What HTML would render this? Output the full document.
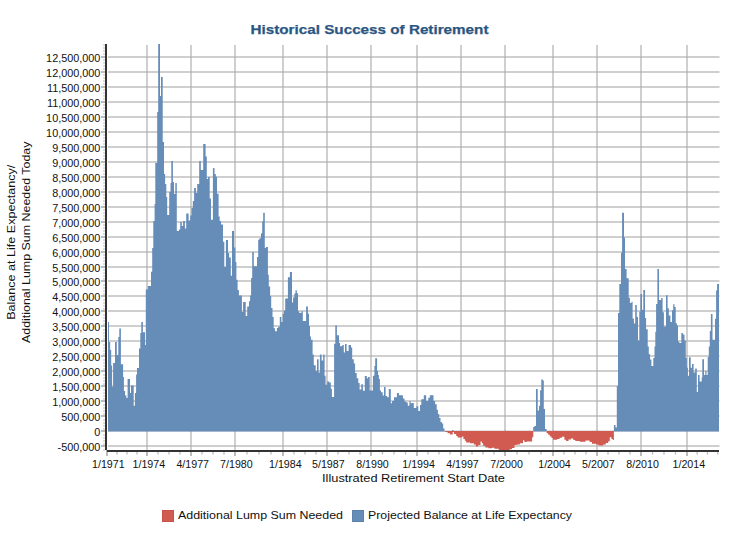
<!DOCTYPE html>
<html><head><meta charset="utf-8"><title>Historical Success of Retirement</title>
<style>
html,body{margin:0;padding:0;background:#fff;}
body{width:741px;height:549px;position:relative;overflow:hidden;font-family:"Liberation Sans",sans-serif;}
</style></head><body>
<svg width="741" height="549" viewBox="0 0 741 549" style="position:absolute;left:0;top:0"><g fill="#cfcfcf"><rect x="108" y="56.00" width="611.5" height="2"/><rect x="108" y="71.00" width="611.5" height="2"/><rect x="108" y="86.00" width="611.5" height="2"/><rect x="108" y="101.00" width="611.5" height="2"/><rect x="108" y="116.00" width="611.5" height="2"/><rect x="108" y="131.00" width="611.5" height="2"/><rect x="108" y="146.00" width="611.5" height="2"/><rect x="108" y="161.00" width="611.5" height="2"/><rect x="108" y="176.00" width="611.5" height="2"/><rect x="108" y="191.00" width="611.5" height="2"/><rect x="108" y="206.00" width="611.5" height="2"/><rect x="108" y="221.00" width="611.5" height="2"/><rect x="108" y="236.00" width="611.5" height="2"/><rect x="108" y="251.00" width="611.5" height="2"/><rect x="108" y="266.00" width="611.5" height="2"/><rect x="108" y="280.00" width="611.5" height="2"/><rect x="108" y="295.00" width="611.5" height="2"/><rect x="108" y="310.00" width="611.5" height="2"/><rect x="108" y="325.00" width="611.5" height="2"/><rect x="108" y="340.00" width="611.5" height="2"/><rect x="108" y="355.00" width="611.5" height="2"/><rect x="108" y="370.00" width="611.5" height="2"/><rect x="108" y="385.00" width="611.5" height="2"/><rect x="108" y="400.00" width="611.5" height="2"/><rect x="108" y="415.00" width="611.5" height="2"/><rect x="108" y="430.2" width="611" height="1.6" fill="#dcdcdc"/><rect x="108" y="445" width="611.5" height="2"/><rect x="146" y="45" width="2" height="405"/><rect x="190" y="45" width="2" height="405"/><rect x="234" y="45" width="2" height="405"/><rect x="282" y="45" width="2" height="405"/><rect x="326" y="45" width="2" height="405"/><rect x="370" y="45" width="2" height="405"/><rect x="416" y="45" width="2" height="405"/><rect x="460" y="45" width="2" height="405"/><rect x="504" y="45" width="2" height="405"/><rect x="552" y="45" width="2" height="405"/><rect x="596" y="45" width="2" height="405"/><rect x="640" y="45" width="2" height="405"/><rect x="686" y="45" width="2" height="405"/></g><g fill="#bcbcbc"><rect x="146" y="56" width="2" height="2"/><rect x="146" y="71" width="2" height="2"/><rect x="146" y="86" width="2" height="2"/><rect x="146" y="101" width="2" height="2"/><rect x="146" y="116" width="2" height="2"/><rect x="146" y="131" width="2" height="2"/><rect x="146" y="146" width="2" height="2"/><rect x="146" y="161" width="2" height="2"/><rect x="146" y="176" width="2" height="2"/><rect x="146" y="191" width="2" height="2"/><rect x="146" y="206" width="2" height="2"/><rect x="146" y="221" width="2" height="2"/><rect x="146" y="236" width="2" height="2"/><rect x="146" y="251" width="2" height="2"/><rect x="146" y="266" width="2" height="2"/><rect x="146" y="280" width="2" height="2"/><rect x="146" y="295" width="2" height="2"/><rect x="146" y="310" width="2" height="2"/><rect x="146" y="325" width="2" height="2"/><rect x="146" y="340" width="2" height="2"/><rect x="146" y="355" width="2" height="2"/><rect x="146" y="370" width="2" height="2"/><rect x="146" y="385" width="2" height="2"/><rect x="146" y="400" width="2" height="2"/><rect x="146" y="415" width="2" height="2"/><rect x="146" y="430" width="2" height="2"/><rect x="146" y="445" width="2" height="2"/><rect x="190" y="56" width="2" height="2"/><rect x="190" y="71" width="2" height="2"/><rect x="190" y="86" width="2" height="2"/><rect x="190" y="101" width="2" height="2"/><rect x="190" y="116" width="2" height="2"/><rect x="190" y="131" width="2" height="2"/><rect x="190" y="146" width="2" height="2"/><rect x="190" y="161" width="2" height="2"/><rect x="190" y="176" width="2" height="2"/><rect x="190" y="191" width="2" height="2"/><rect x="190" y="206" width="2" height="2"/><rect x="190" y="221" width="2" height="2"/><rect x="190" y="236" width="2" height="2"/><rect x="190" y="251" width="2" height="2"/><rect x="190" y="266" width="2" height="2"/><rect x="190" y="280" width="2" height="2"/><rect x="190" y="295" width="2" height="2"/><rect x="190" y="310" width="2" height="2"/><rect x="190" y="325" width="2" height="2"/><rect x="190" y="340" width="2" height="2"/><rect x="190" y="355" width="2" height="2"/><rect x="190" y="370" width="2" height="2"/><rect x="190" y="385" width="2" height="2"/><rect x="190" y="400" width="2" height="2"/><rect x="190" y="415" width="2" height="2"/><rect x="190" y="430" width="2" height="2"/><rect x="190" y="445" width="2" height="2"/><rect x="234" y="56" width="2" height="2"/><rect x="234" y="71" width="2" height="2"/><rect x="234" y="86" width="2" height="2"/><rect x="234" y="101" width="2" height="2"/><rect x="234" y="116" width="2" height="2"/><rect x="234" y="131" width="2" height="2"/><rect x="234" y="146" width="2" height="2"/><rect x="234" y="161" width="2" height="2"/><rect x="234" y="176" width="2" height="2"/><rect x="234" y="191" width="2" height="2"/><rect x="234" y="206" width="2" height="2"/><rect x="234" y="221" width="2" height="2"/><rect x="234" y="236" width="2" height="2"/><rect x="234" y="251" width="2" height="2"/><rect x="234" y="266" width="2" height="2"/><rect x="234" y="280" width="2" height="2"/><rect x="234" y="295" width="2" height="2"/><rect x="234" y="310" width="2" height="2"/><rect x="234" y="325" width="2" height="2"/><rect x="234" y="340" width="2" height="2"/><rect x="234" y="355" width="2" height="2"/><rect x="234" y="370" width="2" height="2"/><rect x="234" y="385" width="2" height="2"/><rect x="234" y="400" width="2" height="2"/><rect x="234" y="415" width="2" height="2"/><rect x="234" y="430" width="2" height="2"/><rect x="234" y="445" width="2" height="2"/><rect x="282" y="56" width="2" height="2"/><rect x="282" y="71" width="2" height="2"/><rect x="282" y="86" width="2" height="2"/><rect x="282" y="101" width="2" height="2"/><rect x="282" y="116" width="2" height="2"/><rect x="282" y="131" width="2" height="2"/><rect x="282" y="146" width="2" height="2"/><rect x="282" y="161" width="2" height="2"/><rect x="282" y="176" width="2" height="2"/><rect x="282" y="191" width="2" height="2"/><rect x="282" y="206" width="2" height="2"/><rect x="282" y="221" width="2" height="2"/><rect x="282" y="236" width="2" height="2"/><rect x="282" y="251" width="2" height="2"/><rect x="282" y="266" width="2" height="2"/><rect x="282" y="280" width="2" height="2"/><rect x="282" y="295" width="2" height="2"/><rect x="282" y="310" width="2" height="2"/><rect x="282" y="325" width="2" height="2"/><rect x="282" y="340" width="2" height="2"/><rect x="282" y="355" width="2" height="2"/><rect x="282" y="370" width="2" height="2"/><rect x="282" y="385" width="2" height="2"/><rect x="282" y="400" width="2" height="2"/><rect x="282" y="415" width="2" height="2"/><rect x="282" y="430" width="2" height="2"/><rect x="282" y="445" width="2" height="2"/><rect x="326" y="56" width="2" height="2"/><rect x="326" y="71" width="2" height="2"/><rect x="326" y="86" width="2" height="2"/><rect x="326" y="101" width="2" height="2"/><rect x="326" y="116" width="2" height="2"/><rect x="326" y="131" width="2" height="2"/><rect x="326" y="146" width="2" height="2"/><rect x="326" y="161" width="2" height="2"/><rect x="326" y="176" width="2" height="2"/><rect x="326" y="191" width="2" height="2"/><rect x="326" y="206" width="2" height="2"/><rect x="326" y="221" width="2" height="2"/><rect x="326" y="236" width="2" height="2"/><rect x="326" y="251" width="2" height="2"/><rect x="326" y="266" width="2" height="2"/><rect x="326" y="280" width="2" height="2"/><rect x="326" y="295" width="2" height="2"/><rect x="326" y="310" width="2" height="2"/><rect x="326" y="325" width="2" height="2"/><rect x="326" y="340" width="2" height="2"/><rect x="326" y="355" width="2" height="2"/><rect x="326" y="370" width="2" height="2"/><rect x="326" y="385" width="2" height="2"/><rect x="326" y="400" width="2" height="2"/><rect x="326" y="415" width="2" height="2"/><rect x="326" y="430" width="2" height="2"/><rect x="326" y="445" width="2" height="2"/><rect x="370" y="56" width="2" height="2"/><rect x="370" y="71" width="2" height="2"/><rect x="370" y="86" width="2" height="2"/><rect x="370" y="101" width="2" height="2"/><rect x="370" y="116" width="2" height="2"/><rect x="370" y="131" width="2" height="2"/><rect x="370" y="146" width="2" height="2"/><rect x="370" y="161" width="2" height="2"/><rect x="370" y="176" width="2" height="2"/><rect x="370" y="191" width="2" height="2"/><rect x="370" y="206" width="2" height="2"/><rect x="370" y="221" width="2" height="2"/><rect x="370" y="236" width="2" height="2"/><rect x="370" y="251" width="2" height="2"/><rect x="370" y="266" width="2" height="2"/><rect x="370" y="280" width="2" height="2"/><rect x="370" y="295" width="2" height="2"/><rect x="370" y="310" width="2" height="2"/><rect x="370" y="325" width="2" height="2"/><rect x="370" y="340" width="2" height="2"/><rect x="370" y="355" width="2" height="2"/><rect x="370" y="370" width="2" height="2"/><rect x="370" y="385" width="2" height="2"/><rect x="370" y="400" width="2" height="2"/><rect x="370" y="415" width="2" height="2"/><rect x="370" y="430" width="2" height="2"/><rect x="370" y="445" width="2" height="2"/><rect x="416" y="56" width="2" height="2"/><rect x="416" y="71" width="2" height="2"/><rect x="416" y="86" width="2" height="2"/><rect x="416" y="101" width="2" height="2"/><rect x="416" y="116" width="2" height="2"/><rect x="416" y="131" width="2" height="2"/><rect x="416" y="146" width="2" height="2"/><rect x="416" y="161" width="2" height="2"/><rect x="416" y="176" width="2" height="2"/><rect x="416" y="191" width="2" height="2"/><rect x="416" y="206" width="2" height="2"/><rect x="416" y="221" width="2" height="2"/><rect x="416" y="236" width="2" height="2"/><rect x="416" y="251" width="2" height="2"/><rect x="416" y="266" width="2" height="2"/><rect x="416" y="280" width="2" height="2"/><rect x="416" y="295" width="2" height="2"/><rect x="416" y="310" width="2" height="2"/><rect x="416" y="325" width="2" height="2"/><rect x="416" y="340" width="2" height="2"/><rect x="416" y="355" width="2" height="2"/><rect x="416" y="370" width="2" height="2"/><rect x="416" y="385" width="2" height="2"/><rect x="416" y="400" width="2" height="2"/><rect x="416" y="415" width="2" height="2"/><rect x="416" y="430" width="2" height="2"/><rect x="416" y="445" width="2" height="2"/><rect x="460" y="56" width="2" height="2"/><rect x="460" y="71" width="2" height="2"/><rect x="460" y="86" width="2" height="2"/><rect x="460" y="101" width="2" height="2"/><rect x="460" y="116" width="2" height="2"/><rect x="460" y="131" width="2" height="2"/><rect x="460" y="146" width="2" height="2"/><rect x="460" y="161" width="2" height="2"/><rect x="460" y="176" width="2" height="2"/><rect x="460" y="191" width="2" height="2"/><rect x="460" y="206" width="2" height="2"/><rect x="460" y="221" width="2" height="2"/><rect x="460" y="236" width="2" height="2"/><rect x="460" y="251" width="2" height="2"/><rect x="460" y="266" width="2" height="2"/><rect x="460" y="280" width="2" height="2"/><rect x="460" y="295" width="2" height="2"/><rect x="460" y="310" width="2" height="2"/><rect x="460" y="325" width="2" height="2"/><rect x="460" y="340" width="2" height="2"/><rect x="460" y="355" width="2" height="2"/><rect x="460" y="370" width="2" height="2"/><rect x="460" y="385" width="2" height="2"/><rect x="460" y="400" width="2" height="2"/><rect x="460" y="415" width="2" height="2"/><rect x="460" y="430" width="2" height="2"/><rect x="460" y="445" width="2" height="2"/><rect x="504" y="56" width="2" height="2"/><rect x="504" y="71" width="2" height="2"/><rect x="504" y="86" width="2" height="2"/><rect x="504" y="101" width="2" height="2"/><rect x="504" y="116" width="2" height="2"/><rect x="504" y="131" width="2" height="2"/><rect x="504" y="146" width="2" height="2"/><rect x="504" y="161" width="2" height="2"/><rect x="504" y="176" width="2" height="2"/><rect x="504" y="191" width="2" height="2"/><rect x="504" y="206" width="2" height="2"/><rect x="504" y="221" width="2" height="2"/><rect x="504" y="236" width="2" height="2"/><rect x="504" y="251" width="2" height="2"/><rect x="504" y="266" width="2" height="2"/><rect x="504" y="280" width="2" height="2"/><rect x="504" y="295" width="2" height="2"/><rect x="504" y="310" width="2" height="2"/><rect x="504" y="325" width="2" height="2"/><rect x="504" y="340" width="2" height="2"/><rect x="504" y="355" width="2" height="2"/><rect x="504" y="370" width="2" height="2"/><rect x="504" y="385" width="2" height="2"/><rect x="504" y="400" width="2" height="2"/><rect x="504" y="415" width="2" height="2"/><rect x="504" y="430" width="2" height="2"/><rect x="504" y="445" width="2" height="2"/><rect x="552" y="56" width="2" height="2"/><rect x="552" y="71" width="2" height="2"/><rect x="552" y="86" width="2" height="2"/><rect x="552" y="101" width="2" height="2"/><rect x="552" y="116" width="2" height="2"/><rect x="552" y="131" width="2" height="2"/><rect x="552" y="146" width="2" height="2"/><rect x="552" y="161" width="2" height="2"/><rect x="552" y="176" width="2" height="2"/><rect x="552" y="191" width="2" height="2"/><rect x="552" y="206" width="2" height="2"/><rect x="552" y="221" width="2" height="2"/><rect x="552" y="236" width="2" height="2"/><rect x="552" y="251" width="2" height="2"/><rect x="552" y="266" width="2" height="2"/><rect x="552" y="280" width="2" height="2"/><rect x="552" y="295" width="2" height="2"/><rect x="552" y="310" width="2" height="2"/><rect x="552" y="325" width="2" height="2"/><rect x="552" y="340" width="2" height="2"/><rect x="552" y="355" width="2" height="2"/><rect x="552" y="370" width="2" height="2"/><rect x="552" y="385" width="2" height="2"/><rect x="552" y="400" width="2" height="2"/><rect x="552" y="415" width="2" height="2"/><rect x="552" y="430" width="2" height="2"/><rect x="552" y="445" width="2" height="2"/><rect x="596" y="56" width="2" height="2"/><rect x="596" y="71" width="2" height="2"/><rect x="596" y="86" width="2" height="2"/><rect x="596" y="101" width="2" height="2"/><rect x="596" y="116" width="2" height="2"/><rect x="596" y="131" width="2" height="2"/><rect x="596" y="146" width="2" height="2"/><rect x="596" y="161" width="2" height="2"/><rect x="596" y="176" width="2" height="2"/><rect x="596" y="191" width="2" height="2"/><rect x="596" y="206" width="2" height="2"/><rect x="596" y="221" width="2" height="2"/><rect x="596" y="236" width="2" height="2"/><rect x="596" y="251" width="2" height="2"/><rect x="596" y="266" width="2" height="2"/><rect x="596" y="280" width="2" height="2"/><rect x="596" y="295" width="2" height="2"/><rect x="596" y="310" width="2" height="2"/><rect x="596" y="325" width="2" height="2"/><rect x="596" y="340" width="2" height="2"/><rect x="596" y="355" width="2" height="2"/><rect x="596" y="370" width="2" height="2"/><rect x="596" y="385" width="2" height="2"/><rect x="596" y="400" width="2" height="2"/><rect x="596" y="415" width="2" height="2"/><rect x="596" y="430" width="2" height="2"/><rect x="596" y="445" width="2" height="2"/><rect x="640" y="56" width="2" height="2"/><rect x="640" y="71" width="2" height="2"/><rect x="640" y="86" width="2" height="2"/><rect x="640" y="101" width="2" height="2"/><rect x="640" y="116" width="2" height="2"/><rect x="640" y="131" width="2" height="2"/><rect x="640" y="146" width="2" height="2"/><rect x="640" y="161" width="2" height="2"/><rect x="640" y="176" width="2" height="2"/><rect x="640" y="191" width="2" height="2"/><rect x="640" y="206" width="2" height="2"/><rect x="640" y="221" width="2" height="2"/><rect x="640" y="236" width="2" height="2"/><rect x="640" y="251" width="2" height="2"/><rect x="640" y="266" width="2" height="2"/><rect x="640" y="280" width="2" height="2"/><rect x="640" y="295" width="2" height="2"/><rect x="640" y="310" width="2" height="2"/><rect x="640" y="325" width="2" height="2"/><rect x="640" y="340" width="2" height="2"/><rect x="640" y="355" width="2" height="2"/><rect x="640" y="370" width="2" height="2"/><rect x="640" y="385" width="2" height="2"/><rect x="640" y="400" width="2" height="2"/><rect x="640" y="415" width="2" height="2"/><rect x="640" y="430" width="2" height="2"/><rect x="640" y="445" width="2" height="2"/><rect x="686" y="56" width="2" height="2"/><rect x="686" y="71" width="2" height="2"/><rect x="686" y="86" width="2" height="2"/><rect x="686" y="101" width="2" height="2"/><rect x="686" y="116" width="2" height="2"/><rect x="686" y="131" width="2" height="2"/><rect x="686" y="146" width="2" height="2"/><rect x="686" y="161" width="2" height="2"/><rect x="686" y="176" width="2" height="2"/><rect x="686" y="191" width="2" height="2"/><rect x="686" y="206" width="2" height="2"/><rect x="686" y="221" width="2" height="2"/><rect x="686" y="236" width="2" height="2"/><rect x="686" y="251" width="2" height="2"/><rect x="686" y="266" width="2" height="2"/><rect x="686" y="280" width="2" height="2"/><rect x="686" y="295" width="2" height="2"/><rect x="686" y="310" width="2" height="2"/><rect x="686" y="325" width="2" height="2"/><rect x="686" y="340" width="2" height="2"/><rect x="686" y="355" width="2" height="2"/><rect x="686" y="370" width="2" height="2"/><rect x="686" y="385" width="2" height="2"/><rect x="686" y="400" width="2" height="2"/><rect x="686" y="415" width="2" height="2"/><rect x="686" y="430" width="2" height="2"/><rect x="686" y="445" width="2" height="2"/></g><path fill="#668cb8" d="M108.0,431.6V322.0H109.0V342.0H110.2V350.0H111.2V365.5H112.1V386.8H113.1V363.0H115.0V342.0H116.8V355.0H118.3V337.0H119.3V328.4H120.9V364.3H123.1V377.0H123.9V391.0H125.1V395.4H126.4V397.9H127.6V379.0H130.0V393.0H131.0V385.5H133.7V405.8H134.9V393.0H136.1V374.5H137.0V368.0H139.0V348.6H140.3V333.0H141.3V322.0H142.9V332.2H145.0V345.0H145.8V289.6H147.8V286.0H151.0V271.7H152.2V248.0H153.3V221.0H154.6V204.0H155.3V163.0H157.2V112.0H158.2V44.0H160.0V96.0H161.0V77.0H162.7V142.0H164.0V174.0H165.1V184.0H166.3V197.0H167.2V215.0H169.2V192.0H170.5V183.0H171.3V161.0H172.9V182.0H174.0V194.0H175.3V183.0H176.8V231.0H178.9V229.4H180.2V222.0H181.8V226.0H183.1V221.0H184.9V228.6H186.2V213.5H188.6V220.5H190.2V215.6H191.5V208.0H192.8V201.0H194.1V188.0H195.9V193.0H197.2V184.0H199.2V161.0H200.8V170.0H203.2V144.0H205.6V156.5H206.8V179.0H208.0V177.0H209.7V198.6H211.0V219.7H212.9V168.0H214.5V174.0H215.8V176.7H217.0V193.8H218.6V216.5H219.7V221.0H221.0V224.4H223.0V241.7H224.3V266.9H225.9V240.0H228.0V253.0H229.1V257.5H230.8V275.8H232.0V231.0H234.0V247.4H235.3V262.0H236.4V279.8H237.6V289.9H238.9V295.5H241.9V312.0H243.1V302.1H245.7V316.0H247.2V306.6H249.0V301.3H250.1V295.6H251.1V278.0H252.2V252.0H253.8V266.3H257.0V257.0H258.2V239.8H259.4V238.2H261.0V233.4H262.2V221.2H263.2V212.8H264.8V248.0H265.9V247.0H267.9V274.8H268.8V286.5H270.1V296.0H271.2V308.0H272.5V317.0H273.7V328.3H275.0V331.3H276.9V328.0H278.2V326.7H279.8V317.0H281.4V321.9H282.7V313.8H283.9V310.5H285.2V298.4H287.9V277.2H289.9V272.0H292.0V302.4H293.1V297.6H294.4V293.5H295.5V290.2H296.8V293.3H298.0V311.3H299.3V313.0H301.4V311.3H302.8V321.0H306.1V306.5H307.9V313.8H309.0V325.9H310.0V336.5H311.0V339.7H312.6V354.5H313.8V365.3H315.7V371.0H317.0V359.3H318.6V372.6H319.9V354.4H321.6V360.4H323.2V354.4H324.6V375.8H325.6V384.7H327.2V381.5H329.2V382.6H330.8V388.8H331.9V396.9H334.1V343.7H335.3V325.4H336.9V335.2H339.0V342.9H340.1V346.2H342.2V344.9H343.8V352.5H345.0V344.0H346.6V351.0H348.6V345.0H351.0V347.4H352.2V359.3H353.8V363.6H355.1V372.9H356.7V378.2H358.3V383.0H359.6V389.6H361.3V384.2H362.9V390.7H364.8V376.0H366.8V378.2H368.0V377.0H369.7V390.4H372.9V375.8H374.4V366.0H375.2V358.3H377.1V371.0H378.0V375.0H378.9V379.0H379.9V390.4H381.0V392.3H382.7V395.6H384.0V387.0H385.6V396.0H387.2V397.2H388.8V389.0H390.8V403.3H392.0V401.0H394.0V397.2H396.9V393.0H398.9V395.2H402.9V398.5H404.5V401.4H406.2V402.5H407.8V405.8H409.4V401.2H410.7V403.3H412.2V402.9H413.8V407.9H416.4V406.3H418.3V411.0H420.0V405.0H421.3V399.3H423.8V395.3H426.2V401.0H428.2V397.7H429.8V395.3H433.5V401.0H435.1V404.2H436.7V409.8H437.9V413.9H439.2V418.0H440.5V422.0H441.9V423.6H443.2V428.5H444.5V431.0H445.2V431.6ZM452.0,431.6V430.0H453.4V431.6ZM533.2,431.6V427.0H534.4V425.9H536.0V389.0H537.7V410.5H539.0V405.7H540.1V390.3H541.3V379.4H542.9V380.5H543.8V408.9H545.0V429.0H546.6V431.6ZM613.9,431.6V425.1H615.5V427.5H616.8V386.0H618.0V313.0H619.3V284.0H621.0V252.8H622.1V212.8H624.0V237.4H625.0V269.0H626.6V278.2H628.7V297.7H629.9V302.9H631.5V301.7H632.6V318.4H633.9V323.6H635.2V305.0H636.8V317.0H638.0V340.6H639.3V311.5H640.4V294.0H642.0V309.8H643.3V290.0H645.0V318.0H646.1V329.3H647.7V346.4H648.8V354.2H650.1V359.6H651.4V366.0H653.3V358.0H654.5V346.4H655.3V331.7H656.1V304.0H657.4V269.0H659.0V300.0H661.2V298.0H662.6V312.3H663.9V326.5H666.0V295.3H667.6V308.2H668.8V315.5H670.4V322.0H672.0V310.3H673.2V304.2H674.5V307.0H675.7V323.3H676.9V325.6H678.0V341.5H679.3V343.0H681.3V333.0H682.9V334.5H684.5V340.6H685.8V358.0H686.9V367.7H687.9V375.8H689.0V357.2H690.7V367.7H692.0V364.0H693.6V372.6H695.2V368.5H696.8V392.0H698.0V375.0H699.6V381.5H701.7V377.4H702.3V359.2H704.0V375.0H705.3V371.0H706.5V375.0H707.7V357.0H708.8V346.6H709.8V331.0H710.9V313.9H712.5V339.8H715.0V318.8H716.1V290.4H717.1V284.0H719.0V431.6Z"/><path fill="#d15b50" d="M445.2,431.1V432.0H447.6V433.3H450.0V434.5H452.7V431.9H454.0V434.1H456.2V435.9H457.6V437.5H462.2V436.5H463.4V439.0H464.9V440.8H466.1V442.4H470.1V443.2H473.8V444.4H475.8V446.6H478.3V445.0H480.5V441.4H481.9V443.2H483.1V445.7H485.3V447.5H488.4V448.3H492.0V447.8H494.4V448.7H498.7V450.4H501.7V449.9H504.1V450.6H509.6V449.3H512.0V448.1H514.5V445.0H516.9V444.4H519.9V443.2H523.0V440.2H524.4V442.0H526.6V441.4H532.1V437.2H533.3V431.1ZM546.6,431.1V433.2H548.2V434.8H549.8V436.5H551.5V438.0H553.1V439.7H557.1V438.9H559.6V437.7H562.0V436.8H564.4V439.7H566.1V441.0H568.5V439.4H570.9V438.4H573.3V440.0H575.3V441.0H579.8V441.8H585.5V440.5H589.6V442.1H592.0V443.7H596.0V444.6H598.5V445.4H603.3V444.6H605.8V442.9H608.2V441.3H609.8V437.3H611.4V438.9H612.7V440.0H613.9V431.1Z"/><rect x="105" y="44" width="2" height="406" fill="#333"/><rect x="106.6" y="450" width="612.4" height="2" fill="#333"/><rect x="101" y="56.00" width="4" height="2" fill="#bcbcbc"/><rect x="101" y="71.00" width="4" height="2" fill="#bcbcbc"/><rect x="101" y="86.00" width="4" height="2" fill="#bcbcbc"/><rect x="101" y="101.00" width="4" height="2" fill="#bcbcbc"/><rect x="101" y="116.00" width="4" height="2" fill="#bcbcbc"/><rect x="101" y="131.00" width="4" height="2" fill="#bcbcbc"/><rect x="101" y="146.00" width="4" height="2" fill="#bcbcbc"/><rect x="101" y="161.00" width="4" height="2" fill="#bcbcbc"/><rect x="101" y="176.00" width="4" height="2" fill="#bcbcbc"/><rect x="101" y="191.00" width="4" height="2" fill="#bcbcbc"/><rect x="101" y="206.00" width="4" height="2" fill="#bcbcbc"/><rect x="101" y="221.00" width="4" height="2" fill="#bcbcbc"/><rect x="101" y="236.00" width="4" height="2" fill="#bcbcbc"/><rect x="101" y="251.00" width="4" height="2" fill="#bcbcbc"/><rect x="101" y="266.00" width="4" height="2" fill="#bcbcbc"/><rect x="101" y="280.00" width="4" height="2" fill="#bcbcbc"/><rect x="101" y="295.00" width="4" height="2" fill="#bcbcbc"/><rect x="101" y="310.00" width="4" height="2" fill="#bcbcbc"/><rect x="101" y="325.00" width="4" height="2" fill="#bcbcbc"/><rect x="101" y="340.00" width="4" height="2" fill="#bcbcbc"/><rect x="101" y="355.00" width="4" height="2" fill="#bcbcbc"/><rect x="101" y="370.00" width="4" height="2" fill="#bcbcbc"/><rect x="101" y="385.00" width="4" height="2" fill="#bcbcbc"/><rect x="101" y="400.00" width="4" height="2" fill="#bcbcbc"/><rect x="101" y="415.00" width="4" height="2" fill="#bcbcbc"/><rect x="101" y="430.00" width="4" height="2" fill="#bcbcbc"/><rect x="101" y="445.00" width="4" height="2" fill="#bcbcbc"/><rect x="103" y="44.5" width="2" height="1" fill="#bdbdbd"/><rect x="103" y="47.5" width="2" height="1" fill="#bdbdbd"/><rect x="103" y="50.5" width="2" height="1" fill="#bdbdbd"/><rect x="103" y="53.5" width="2" height="1" fill="#bdbdbd"/><rect x="103" y="59.5" width="2" height="1" fill="#bdbdbd"/><rect x="103" y="62.5" width="2" height="1" fill="#bdbdbd"/><rect x="103" y="65.5" width="2" height="1" fill="#bdbdbd"/><rect x="103" y="68.5" width="2" height="1" fill="#bdbdbd"/><rect x="103" y="74.5" width="2" height="1" fill="#bdbdbd"/><rect x="103" y="77.5" width="2" height="1" fill="#bdbdbd"/><rect x="103" y="80.5" width="2" height="1" fill="#bdbdbd"/><rect x="103" y="83.5" width="2" height="1" fill="#bdbdbd"/><rect x="103" y="89.5" width="2" height="1" fill="#bdbdbd"/><rect x="103" y="92.5" width="2" height="1" fill="#bdbdbd"/><rect x="103" y="95.5" width="2" height="1" fill="#bdbdbd"/><rect x="103" y="98.5" width="2" height="1" fill="#bdbdbd"/><rect x="103" y="104.5" width="2" height="1" fill="#bdbdbd"/><rect x="103" y="107.5" width="2" height="1" fill="#bdbdbd"/><rect x="103" y="110.5" width="2" height="1" fill="#bdbdbd"/><rect x="103" y="113.5" width="2" height="1" fill="#bdbdbd"/><rect x="103" y="119.5" width="2" height="1" fill="#bdbdbd"/><rect x="103" y="122.5" width="2" height="1" fill="#bdbdbd"/><rect x="103" y="125.5" width="2" height="1" fill="#bdbdbd"/><rect x="103" y="128.5" width="2" height="1" fill="#bdbdbd"/><rect x="103" y="134.5" width="2" height="1" fill="#bdbdbd"/><rect x="103" y="137.5" width="2" height="1" fill="#bdbdbd"/><rect x="103" y="140.5" width="2" height="1" fill="#bdbdbd"/><rect x="103" y="143.5" width="2" height="1" fill="#bdbdbd"/><rect x="103" y="149.5" width="2" height="1" fill="#bdbdbd"/><rect x="103" y="152.5" width="2" height="1" fill="#bdbdbd"/><rect x="103" y="155.5" width="2" height="1" fill="#bdbdbd"/><rect x="103" y="158.5" width="2" height="1" fill="#bdbdbd"/><rect x="103" y="164.5" width="2" height="1" fill="#bdbdbd"/><rect x="103" y="167.5" width="2" height="1" fill="#bdbdbd"/><rect x="103" y="170.5" width="2" height="1" fill="#bdbdbd"/><rect x="103" y="173.5" width="2" height="1" fill="#bdbdbd"/><rect x="103" y="179.5" width="2" height="1" fill="#bdbdbd"/><rect x="103" y="182.5" width="2" height="1" fill="#bdbdbd"/><rect x="103" y="185.5" width="2" height="1" fill="#bdbdbd"/><rect x="103" y="188.5" width="2" height="1" fill="#bdbdbd"/><rect x="103" y="194.5" width="2" height="1" fill="#bdbdbd"/><rect x="103" y="197.5" width="2" height="1" fill="#bdbdbd"/><rect x="103" y="200.5" width="2" height="1" fill="#bdbdbd"/><rect x="103" y="203.5" width="2" height="1" fill="#bdbdbd"/><rect x="103" y="209.5" width="2" height="1" fill="#bdbdbd"/><rect x="103" y="212.5" width="2" height="1" fill="#bdbdbd"/><rect x="103" y="215.5" width="2" height="1" fill="#bdbdbd"/><rect x="103" y="218.5" width="2" height="1" fill="#bdbdbd"/><rect x="103" y="224.5" width="2" height="1" fill="#bdbdbd"/><rect x="103" y="227.5" width="2" height="1" fill="#bdbdbd"/><rect x="103" y="230.5" width="2" height="1" fill="#bdbdbd"/><rect x="103" y="233.5" width="2" height="1" fill="#bdbdbd"/><rect x="103" y="239.5" width="2" height="1" fill="#bdbdbd"/><rect x="103" y="242.5" width="2" height="1" fill="#bdbdbd"/><rect x="103" y="245.5" width="2" height="1" fill="#bdbdbd"/><rect x="103" y="248.5" width="2" height="1" fill="#bdbdbd"/><rect x="103" y="254.5" width="2" height="1" fill="#bdbdbd"/><rect x="103" y="257.5" width="2" height="1" fill="#bdbdbd"/><rect x="103" y="260.5" width="2" height="1" fill="#bdbdbd"/><rect x="103" y="263.5" width="2" height="1" fill="#bdbdbd"/><rect x="103" y="269.5" width="2" height="1" fill="#bdbdbd"/><rect x="103" y="272.5" width="2" height="1" fill="#bdbdbd"/><rect x="103" y="275.5" width="2" height="1" fill="#bdbdbd"/><rect x="103" y="278.5" width="2" height="1" fill="#bdbdbd"/><rect x="103" y="284.5" width="2" height="1" fill="#bdbdbd"/><rect x="103" y="287.5" width="2" height="1" fill="#bdbdbd"/><rect x="103" y="290.5" width="2" height="1" fill="#bdbdbd"/><rect x="103" y="293.5" width="2" height="1" fill="#bdbdbd"/><rect x="103" y="299.5" width="2" height="1" fill="#bdbdbd"/><rect x="103" y="302.5" width="2" height="1" fill="#bdbdbd"/><rect x="103" y="305.5" width="2" height="1" fill="#bdbdbd"/><rect x="103" y="308.5" width="2" height="1" fill="#bdbdbd"/><rect x="103" y="314.5" width="2" height="1" fill="#bdbdbd"/><rect x="103" y="317.5" width="2" height="1" fill="#bdbdbd"/><rect x="103" y="320.5" width="2" height="1" fill="#bdbdbd"/><rect x="103" y="323.5" width="2" height="1" fill="#bdbdbd"/><rect x="103" y="329.5" width="2" height="1" fill="#bdbdbd"/><rect x="103" y="332.5" width="2" height="1" fill="#bdbdbd"/><rect x="103" y="335.5" width="2" height="1" fill="#bdbdbd"/><rect x="103" y="338.5" width="2" height="1" fill="#bdbdbd"/><rect x="103" y="344.5" width="2" height="1" fill="#bdbdbd"/><rect x="103" y="347.5" width="2" height="1" fill="#bdbdbd"/><rect x="103" y="350.5" width="2" height="1" fill="#bdbdbd"/><rect x="103" y="353.5" width="2" height="1" fill="#bdbdbd"/><rect x="103" y="359.5" width="2" height="1" fill="#bdbdbd"/><rect x="103" y="362.5" width="2" height="1" fill="#bdbdbd"/><rect x="103" y="365.5" width="2" height="1" fill="#bdbdbd"/><rect x="103" y="368.5" width="2" height="1" fill="#bdbdbd"/><rect x="103" y="374.5" width="2" height="1" fill="#bdbdbd"/><rect x="103" y="377.5" width="2" height="1" fill="#bdbdbd"/><rect x="103" y="380.5" width="2" height="1" fill="#bdbdbd"/><rect x="103" y="383.5" width="2" height="1" fill="#bdbdbd"/><rect x="103" y="389.5" width="2" height="1" fill="#bdbdbd"/><rect x="103" y="392.5" width="2" height="1" fill="#bdbdbd"/><rect x="103" y="395.5" width="2" height="1" fill="#bdbdbd"/><rect x="103" y="398.5" width="2" height="1" fill="#bdbdbd"/><rect x="103" y="404.5" width="2" height="1" fill="#bdbdbd"/><rect x="103" y="407.5" width="2" height="1" fill="#bdbdbd"/><rect x="103" y="410.5" width="2" height="1" fill="#bdbdbd"/><rect x="103" y="413.5" width="2" height="1" fill="#bdbdbd"/><rect x="103" y="419.5" width="2" height="1" fill="#bdbdbd"/><rect x="103" y="422.5" width="2" height="1" fill="#bdbdbd"/><rect x="103" y="425.5" width="2" height="1" fill="#bdbdbd"/><rect x="103" y="428.5" width="2" height="1" fill="#bdbdbd"/><rect x="103" y="434.5" width="2" height="1" fill="#bdbdbd"/><rect x="103" y="437.5" width="2" height="1" fill="#bdbdbd"/><rect x="103" y="440.5" width="2" height="1" fill="#bdbdbd"/><rect x="103" y="443.5" width="2" height="1" fill="#bdbdbd"/><rect x="103" y="449.5" width="2" height="1" fill="#bdbdbd"/><rect x="106" y="452" width="2" height="4" fill="#bcbcbc"/><rect x="146" y="452" width="2" height="4" fill="#bcbcbc"/><rect x="190" y="452" width="2" height="4" fill="#bcbcbc"/><rect x="234" y="452" width="2" height="4" fill="#bcbcbc"/><rect x="282" y="452" width="2" height="4" fill="#bcbcbc"/><rect x="326" y="452" width="2" height="4" fill="#bcbcbc"/><rect x="370" y="452" width="2" height="4" fill="#bcbcbc"/><rect x="416" y="452" width="2" height="4" fill="#bcbcbc"/><rect x="460" y="452" width="2" height="4" fill="#bcbcbc"/><rect x="504" y="452" width="2" height="4" fill="#bcbcbc"/><rect x="552" y="452" width="2" height="4" fill="#bcbcbc"/><rect x="596" y="452" width="2" height="4" fill="#bcbcbc"/><rect x="640" y="452" width="2" height="4" fill="#bcbcbc"/><rect x="686" y="452" width="2" height="4" fill="#bcbcbc"/><rect x="116.3" y="452" width="1.4" height="2.6" fill="#c2c2c2"/><rect x="126.3" y="452" width="1.4" height="2.6" fill="#c2c2c2"/><rect x="136.3" y="452" width="1.4" height="2.6" fill="#c2c2c2"/><rect x="157.3" y="452" width="1.4" height="2.6" fill="#c2c2c2"/><rect x="168.3" y="452" width="1.4" height="2.6" fill="#c2c2c2"/><rect x="179.3" y="452" width="1.4" height="2.6" fill="#c2c2c2"/><rect x="201.3" y="452" width="1.4" height="2.6" fill="#c2c2c2"/><rect x="212.3" y="452" width="1.4" height="2.6" fill="#c2c2c2"/><rect x="223.3" y="452" width="1.4" height="2.6" fill="#c2c2c2"/><rect x="246.3" y="452" width="1.4" height="2.6" fill="#c2c2c2"/><rect x="258.3" y="452" width="1.4" height="2.6" fill="#c2c2c2"/><rect x="270.3" y="452" width="1.4" height="2.6" fill="#c2c2c2"/><rect x="293.3" y="452" width="1.4" height="2.6" fill="#c2c2c2"/><rect x="304.3" y="452" width="1.4" height="2.6" fill="#c2c2c2"/><rect x="315.3" y="452" width="1.4" height="2.6" fill="#c2c2c2"/><rect x="337.3" y="452" width="1.4" height="2.6" fill="#c2c2c2"/><rect x="348.3" y="452" width="1.4" height="2.6" fill="#c2c2c2"/><rect x="359.3" y="452" width="1.4" height="2.6" fill="#c2c2c2"/><rect x="381.8" y="452" width="1.4" height="2.6" fill="#c2c2c2"/><rect x="393.3" y="452" width="1.4" height="2.6" fill="#c2c2c2"/><rect x="404.8" y="452" width="1.4" height="2.6" fill="#c2c2c2"/><rect x="427.3" y="452" width="1.4" height="2.6" fill="#c2c2c2"/><rect x="438.3" y="452" width="1.4" height="2.6" fill="#c2c2c2"/><rect x="449.3" y="452" width="1.4" height="2.6" fill="#c2c2c2"/><rect x="471.3" y="452" width="1.4" height="2.6" fill="#c2c2c2"/><rect x="482.3" y="452" width="1.4" height="2.6" fill="#c2c2c2"/><rect x="493.3" y="452" width="1.4" height="2.6" fill="#c2c2c2"/><rect x="516.3" y="452" width="1.4" height="2.6" fill="#c2c2c2"/><rect x="528.3" y="452" width="1.4" height="2.6" fill="#c2c2c2"/><rect x="540.3" y="452" width="1.4" height="2.6" fill="#c2c2c2"/><rect x="563.3" y="452" width="1.4" height="2.6" fill="#c2c2c2"/><rect x="574.3" y="452" width="1.4" height="2.6" fill="#c2c2c2"/><rect x="585.3" y="452" width="1.4" height="2.6" fill="#c2c2c2"/><rect x="607.3" y="452" width="1.4" height="2.6" fill="#c2c2c2"/><rect x="618.3" y="452" width="1.4" height="2.6" fill="#c2c2c2"/><rect x="629.3" y="452" width="1.4" height="2.6" fill="#c2c2c2"/><rect x="651.8" y="452" width="1.4" height="2.6" fill="#c2c2c2"/><rect x="663.3" y="452" width="1.4" height="2.6" fill="#c2c2c2"/><rect x="674.8" y="452" width="1.4" height="2.6" fill="#c2c2c2"/><rect x="696.5" y="452" width="1.4" height="2.6" fill="#c2c2c2"/><rect x="706.8" y="452" width="1.4" height="2.6" fill="#c2c2c2"/><rect x="717.0" y="452" width="1.4" height="2.6" fill="#c2c2c2"/><g font-family="Liberation Sans, sans-serif" font-size="10.67" fill="#111"><text x="100.4" y="61.8" text-anchor="end" font-size="10.85">12,500,000</text><text x="100.4" y="76.8" text-anchor="end" font-size="10.85">12,000,000</text><text x="100.4" y="91.8" text-anchor="end" font-size="10.85">11,500,000</text><text x="100.4" y="106.8" text-anchor="end" font-size="10.85">11,000,000</text><text x="100.4" y="121.8" text-anchor="end" font-size="10.85">10,500,000</text><text x="100.4" y="136.8" text-anchor="end" font-size="10.85">10,000,000</text><text x="100.4" y="151.8" text-anchor="end" font-size="10.85">9,500,000</text><text x="100.4" y="166.8" text-anchor="end" font-size="10.85">9,000,000</text><text x="100.4" y="181.8" text-anchor="end" font-size="10.85">8,500,000</text><text x="100.4" y="196.8" text-anchor="end" font-size="10.85">8,000,000</text><text x="100.4" y="211.8" text-anchor="end" font-size="10.85">7,500,000</text><text x="100.4" y="226.8" text-anchor="end" font-size="10.85">7,000,000</text><text x="100.4" y="241.8" text-anchor="end" font-size="10.85">6,500,000</text><text x="100.4" y="256.8" text-anchor="end" font-size="10.85">6,000,000</text><text x="100.4" y="271.8" text-anchor="end" font-size="10.85">5,500,000</text><text x="100.4" y="285.8" text-anchor="end" font-size="10.85">5,000,000</text><text x="100.4" y="300.8" text-anchor="end" font-size="10.85">4,500,000</text><text x="100.4" y="315.8" text-anchor="end" font-size="10.85">4,000,000</text><text x="100.4" y="330.8" text-anchor="end" font-size="10.85">3,500,000</text><text x="100.4" y="345.8" text-anchor="end" font-size="10.85">3,000,000</text><text x="100.4" y="360.8" text-anchor="end" font-size="10.85">2,500,000</text><text x="100.4" y="375.8" text-anchor="end" font-size="10.85">2,000,000</text><text x="100.4" y="390.8" text-anchor="end" font-size="10.85">1,500,000</text><text x="100.4" y="405.8" text-anchor="end" font-size="10.85">1,000,000</text><text x="100.4" y="420.8" text-anchor="end" font-size="10.85">500,000</text><text x="100.4" y="435.8" text-anchor="end" font-size="10.85">0</text><text x="100.4" y="450.8" text-anchor="end" font-size="10.85">-500,000</text><text x="108.3" y="468" text-anchor="middle">1/1971</text><text x="148.8" y="468" text-anchor="middle">1/1974</text><text x="192.7" y="468" text-anchor="middle">4/1977</text><text x="236.4" y="468" text-anchor="middle">7/1980</text><text x="285.3" y="468" text-anchor="middle">1/1984</text><text x="328.3" y="468" text-anchor="middle">5/1987</text><text x="372.5" y="468" text-anchor="middle">8/1990</text><text x="418.6" y="468" text-anchor="middle">1/1994</text><text x="462.5" y="468" text-anchor="middle">4/1997</text><text x="506.6" y="468" text-anchor="middle">7/2000</text><text x="554.5" y="468" text-anchor="middle">1/2004</text><text x="598.4" y="468" text-anchor="middle">5/2007</text><text x="642.6" y="468" text-anchor="middle">8/2010</text><text x="688.8" y="468" text-anchor="middle">1/2014</text></g><text x="369.5" y="33.5" text-anchor="middle" font-family="Liberation Sans, sans-serif" font-weight="bold" font-size="13" fill="#2b5681" stroke="#2b5681" stroke-width="0.25" textLength="238" lengthAdjust="spacingAndGlyphs">Historical Success of Retirement</text><g font-family="Liberation Sans, sans-serif" font-size="11.5" fill="#111"><text x="413.5" y="482" text-anchor="middle" textLength="183" lengthAdjust="spacingAndGlyphs">Illustrated Retirement Start Date</text><text transform="translate(15,242.3) rotate(-90)" text-anchor="middle" textLength="155" lengthAdjust="spacingAndGlyphs">Balance at Life Expectancy/</text><text transform="translate(30,242.3) rotate(-90)" text-anchor="middle" textLength="201.5" lengthAdjust="spacingAndGlyphs">Additional Lump Sum Needed Today</text><text x="178" y="519.1" textLength="165" lengthAdjust="spacingAndGlyphs">Additional Lump Sum Needed</text><text x="368" y="519.1" textLength="204" lengthAdjust="spacingAndGlyphs">Projected Balance at Life Expectancy</text></g><rect x="162.5" y="510.5" width="11" height="11" fill="#d15b50" stroke="#c95247" stroke-width="1"/><rect x="352.5" y="510.5" width="11" height="11" fill="#668cb8" stroke="#5c83b0" stroke-width="1"/></svg>
</body></html>
